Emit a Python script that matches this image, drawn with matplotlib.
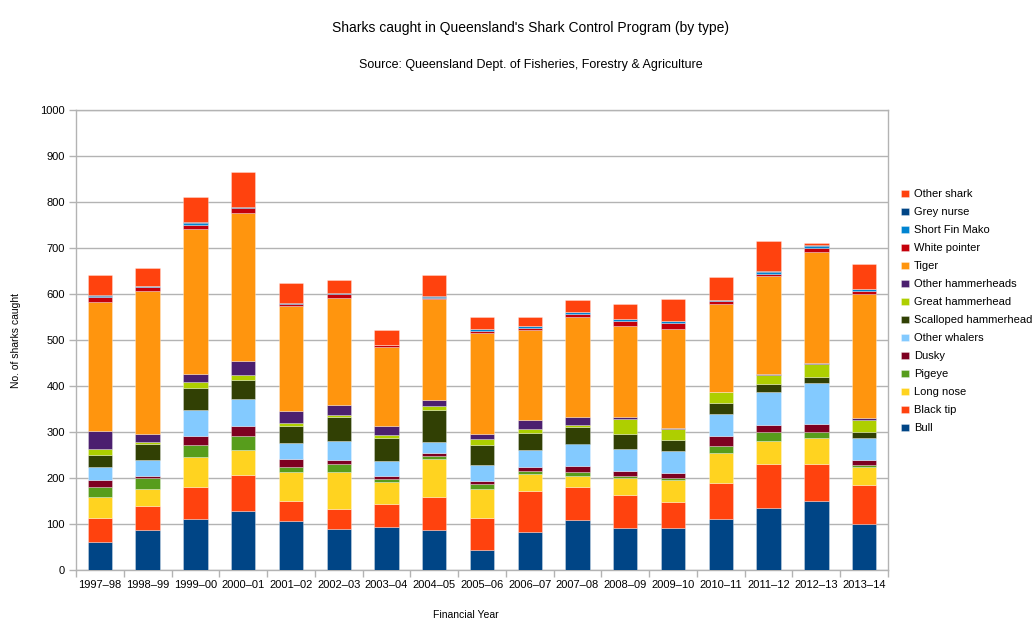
import matplotlib
matplotlib.use("Agg")
import matplotlib.pyplot as plt
import numpy as np

plt.rcParams['font.family'] = ['Liberation Sans', 'DejaVu Sans']

years = ["1997–98", "1998–99", "1999–00", "2000–01", "2001–02", "2002–03", "2003–04",
         "2004–05", "2005–06", "2006–07", "2007–08", "2008–09", "2009–10", "2010–11",
         "2011–12", "2012–13", "2013–14"]

bull = [60, 88, 110, 129, 107, 90, 94, 86, 44, 83, 109, 91, 91, 110, 135, 151, 99]
black_tip = [54, 51, 71, 78, 44, 43, 50, 72, 69, 89, 71, 72, 56, 80, 96, 80, 85]
long_nose = [44, 37, 65, 54, 62, 80, 48, 83, 64, 37, 24, 38, 48, 64, 50, 56, 41]
pigeye = [23, 25, 25, 30, 12, 17, 6, 7, 11, 7, 8, 4, 4, 16, 20, 14, 3]
dusky = [14, 4, 20, 21, 17, 9, 7, 6, 5, 8, 14, 10, 12, 22, 15, 16, 12]
other_whalers = [28, 34, 56, 59, 35, 41, 33, 24, 35, 36, 49, 47, 48, 47, 72, 89, 46]
scalloped_hammerhead = [28, 35, 48, 41, 35, 52, 48, 70, 44, 38, 35, 33, 24, 25, 17, 14, 13]
great_hammerhead = [11, 4, 14, 12, 7, 6, 7, 9, 12, 8, 6, 33, 24, 22, 18, 28, 27]
other_hammerheads = [40, 17, 18, 31, 27, 21, 20, 13, 12, 20, 17, 4, 1, 1, 4, 1, 4]
tiger = [280, 311, 315, 321, 228, 232, 172, 220, 220, 196, 216, 199, 217, 191, 212, 242, 271]
white_pointer = [12, 9, 9, 10, 4, 8, 4, 1, 3, 4, 7, 11, 12, 6, 5, 8, 6]
short_fin_mako = [2, 2, 3, 1, 1, 2, 0, 3, 4, 4, 4, 3, 4, 3, 3, 5, 3]
grey_nurse = [1, 1, 2, 2, 1, 1, 1, 1, 1, 1, 1, 1, 1, 1, 2, 2, 1]
other_shark = [45, 38, 55, 76, 43, 29, 31, 47, 27, 19, 27, 32, 47, 49, 66, 5, 55]

series_names = ["Bull", "Black tip", "Long nose", "Pigeye", "Dusky", "Other whalers",
                "Scalloped hammerhead", "Great hammerhead", "Other hammerheads", "Tiger",
                "White pointer", "Short Fin Mako", "Grey nurse", "Other shark"]
series_values = [bull, black_tip, long_nose, pigeye, dusky, other_whalers,
                 scalloped_hammerhead, great_hammerhead, other_hammerheads, tiger,
                 white_pointer, short_fin_mako, grey_nurse, other_shark]
colors = ["#004586", "#ff420e", "#ffd320", "#579d1c", "#7e0021", "#83caff",
          "#314004", "#aecf00", "#4b1f6f", "#ff950e", "#c5000b", "#0084d1",
          "#004586", "#ff420e"]

fig = plt.figure(figsize=(10.34, 6.27), dpi=100)
ax = fig.add_axes([76/1034, 57/627, 812/1034, 460/627])

x = np.arange(len(years))
bottom = np.zeros(len(years))
handles = []
for name, vals, c in zip(series_names, series_values, colors):
    v = np.array(vals, dtype=float)
    h = ax.bar(x, v, 0.51, bottom=bottom, color=c, label=name,
               edgecolor=(1, 1, 1, 0.35), linewidth=0.6, zorder=3)
    handles.append(h)
    bottom += v

ax.set_xlim(-0.5, len(years) - 0.5)
ax.set_ylim(0, 1000)
ax.set_yticks(np.arange(0, 1001, 100))
ax.yaxis.grid(True, color="#b3b3b3", linewidth=1, zorder=0)
ax.set_axisbelow(True)
for s in ax.spines.values():
    s.set_color("#b3b3b3")
    s.set_linewidth(1)

ax.set_xticks(x)
ax.set_xticklabels(years, fontsize=8, color="#000000")
ax.tick_params(axis='x', which='major', length=0, pad=7)
ax.set_xticks(np.arange(-0.5, len(years), 1), minor=True)
ax.tick_params(axis='x', which='minor', length=5, color="#b3b3b3", width=1)
ax.tick_params(axis='y', labelsize=8, length=5, color="#b3b3b3", width=1, pad=3)

ax.set_ylabel("No. of sharks caught", fontsize=7.5, labelpad=14)
fig.text(466/1034, 1 - 615/627, "Financial Year", fontsize=7.5, ha='center', va='center')

fig.text(531/1034, 1 - 28/627, "Sharks caught in Queensland's Shark Control Program (by type)",
         fontsize=10, ha='center', va='center')
fig.text(531/1034, 1 - 65/627, "Source: Queensland Dept. of Fisheries, Forestry & Agriculture",
         fontsize=9, ha='center', va='center')

leg = fig.legend(handles[::-1], series_names[::-1], loc='upper left',
                 bbox_to_anchor=(897/1034, 1 - 185/627), frameon=False,
                 fontsize=8, handlelength=0.7, handleheight=0.7, handletextpad=0.45,
                 labelspacing=0.72, borderaxespad=0)

fig.savefig("out.png", dpi=100)
